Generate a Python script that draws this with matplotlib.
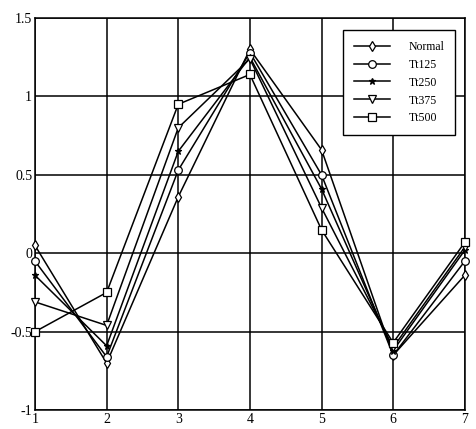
import numpy as np
import matplotlib
matplotlib.use("Agg")
import matplotlib.pyplot as plt

plt.rcParams['font.family'] = ['Liberation Serif', 'DejaVu Serif']

x = [1, 2, 3, 4, 5, 6, 7]
labels = ['Normal', 'Tt125', 'Tt250', 'Tt375', 'Tt500']
normal = [0.05, -0.70, 0.36, 1.30, 0.66, -0.65, -0.14]
tt125 = [-0.05, -0.66, 0.53, 1.28, 0.50, -0.65, -0.05]
tt250 = [-0.14, -0.59, 0.65, 1.25, 0.41, -0.62, 0.02]
tt375 = [-0.31, -0.46, 0.80, 1.24, 0.29, -0.60, 0.04]
tt500 = [-0.50, -0.25, 0.95, 1.14, 0.15, -0.57, 0.07]
series = [normal, tt125, tt250, tt375, tt500]
markers = ['d', 'o', '*', 'v', 's']

fig = plt.figure(figsize=(4.76, 4.29), dpi=100)
ax = fig.add_axes([0.0735, 0.044, 0.903, 0.914])

for vals, m, lab in zip(series, markers, labels):
	fc = 'k' if m == '*' else 'white'
	ax.plot(x, vals, color='k', lw=1.1, marker=m, markersize=5.5 if m != '*' else 5,
		markerfacecolor=fc, markeredgecolor='k', markeredgewidth=0.9, label=lab,
		clip_on=False, zorder=3)

ax.set_xlim(1, 7)
ax.set_ylim(-1, 1.5)
ax.set_xticks(x)
ax.set_yticks([-1, -0.5, 0, 0.5, 1, 1.5])
ax.set_yticklabels(['-1', '-0.5', '0', '0.5', '1', '1.5'])
ax.grid(True, color='k', lw=1.1)
ax.tick_params(direction='in', length=0, labelsize=10, pad=2)
for s in ax.spines.values():
	s.set_linewidth(1.1)

leg = ax.legend(loc='upper right', bbox_to_anchor=(0.977, 0.969), borderaxespad=0,
	fancybox=False, framealpha=1, edgecolor='k', fontsize=8.5, handlelength=3,
	borderpad=0.9, labelspacing=0.5, handletextpad=1.6)
leg.get_frame().set_linewidth(1.0)
leg.set_zorder(5)

fig.savefig('out.png', dpi=100)
